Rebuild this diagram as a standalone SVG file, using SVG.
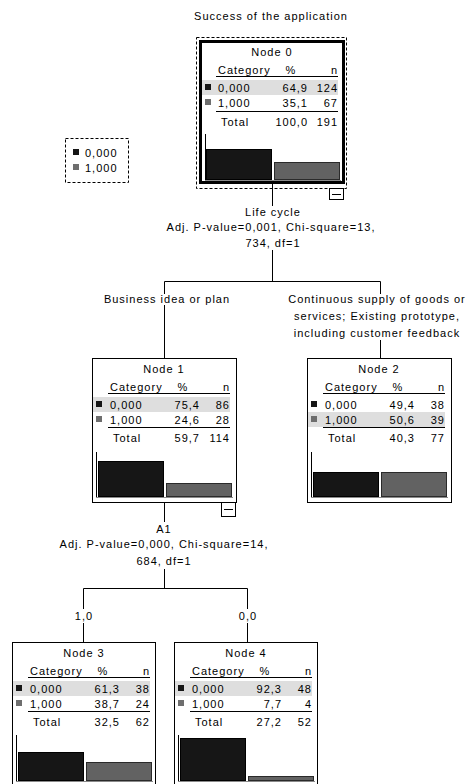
<svg xmlns="http://www.w3.org/2000/svg" width="466" height="784" viewBox="0 0 466 784">
<style>
.t{font-family:"Liberation Sans",Arial,sans-serif;font-size:11px;letter-spacing:1px;fill:#000}
.m{text-anchor:middle}
.e{text-anchor:end}
.ln{stroke:#000;stroke-width:1;fill:none}
.bx{fill:#fff;stroke:#000;stroke-width:1}
.hl{fill:#dedede}
.bk{fill:#161616;stroke:#000;stroke-width:1}
.gy{fill:#626262;stroke:#2a2a2a;stroke-width:1}
.sqb{fill:#161616}
.sqg{fill:#6e6e6e}
.base{stroke:#8a8a8a;stroke-width:1}
.dash{fill:none;stroke:#000;stroke-width:1;stroke-dasharray:3 2}
</style>
<rect width="466" height="784" fill="#fff"/>
<text class="t m" x="271" y="20">Success of the application</text>

<g id="legend">
<rect class="dash" x="65.5" y="138.5" width="63" height="44"/>
<rect class="sqb" x="73" y="149" width="6" height="6"/>
<text class="t" x="85" y="157">0,000</text>
<rect class="sqg" x="73" y="164" width="6" height="6"/>
<text class="t" x="85" y="172">1,000</text>
</g>

<g id="connectors">
<path class="ln" d="M272.5 184V206M272.5 250V281.5M164.5 281.5H380.5M164.5 281.5V294M164.5 305V358M380.5 281.5V294M380.5 340V358"/>
<path class="ln" d="M164.5 503V522M164.5 569V588.5M83.5 588.5H247.5M83.5 588.5V609M83.5 623V642M247.5 588.5V609M247.5 623V642"/>
<text class="t m" x="273" y="216">Life cycle</text>
<text class="t m" x="271" y="231">Adj. P-value=0,001, Chi-square=13,</text>
<text class="t m" x="273" y="247">734, df=1</text>
<text class="t m" x="167" y="303">Business idea or plan</text>
<text class="t m" x="377" y="303">Continuous supply of goods or</text>
<text class="t m" x="377" y="320">services; Existing prototype,</text>
<text class="t m" x="377" y="337">including customer feedback</text>
<text class="t m" x="164" y="533">A1</text>
<text class="t m" x="164" y="548">Adj. P-value=0,000, Chi-square=14,</text>
<text class="t m" x="164" y="565">684, df=1</text>
<text class="t m" x="84" y="620">1,0</text>
<text class="t m" x="248" y="620">0,0</text>
</g>

<g id="node0">
<rect class="dash" x="196.5" y="37.5" width="150" height="151"/>
<rect x="200.5" y="41.5" width="143" height="141" fill="#fff" stroke="#000" stroke-width="3"/>
<g transform="translate(200,41)">
<text class="t m" x="72" y="15">Node 0</text>
<text class="t" x="18" y="33">Category</text>
<text class="t m" x="91" y="33">%</text>
<text class="t e" x="138" y="33">n</text>
<line class="ln" x1="16" y1="35.5" x2="138" y2="35.5"/>
<rect class="hl" x="2" y="39" width="136" height="15"/>
<rect class="sqb" x="5" y="43" width="6" height="6"/>
<text class="t" x="18" y="51">0,000</text>
<text class="t e" x="108" y="51">64,9</text>
<text class="t e" x="138" y="51">124</text>
<rect class="sqg" x="5" y="58" width="6" height="6"/>
<text class="t" x="18" y="66">1,000</text>
<text class="t e" x="108" y="66">35,1</text>
<text class="t e" x="138" y="66">67</text>
<line class="ln" x1="16" y1="70.5" x2="138" y2="70.5"/>
<text class="t" x="21" y="85">Total</text>
<text class="t e" x="108" y="85">100,0</text>
<text class="t e" x="138" y="85">191</text>
<line class="ln" x1="5.5" y1="93" x2="5.5" y2="139"/>
<line class="base" x1="5" y1="139.5" x2="141" y2="139.5"/>
<rect class="bk" x="6.5" y="108.5" width="65" height="30"/>
<rect class="gy" x="74.5" y="121.5" width="65" height="17"/>
</g>
<rect class="bx" x="329.5" y="188.5" width="14" height="11"/>
<line class="ln" x1="332" y1="194.5" x2="341" y2="194.5"/>
</g>

<g id="node1" transform="translate(92,358)">
<rect class="bx" x="0.5" y="0.5" width="144" height="144"/>
<text class="t m" x="72" y="15">Node 1</text>
<text class="t" x="18" y="33">Category</text>
<text class="t m" x="91" y="33">%</text>
<text class="t e" x="138" y="33">n</text>
<line class="ln" x1="16" y1="35.5" x2="138" y2="35.5"/>
<rect class="hl" x="1" y="39" width="137" height="15"/>
<rect class="sqb" x="4" y="43" width="6" height="6"/>
<text class="t" x="18" y="51">0,000</text>
<text class="t e" x="108" y="51">75,4</text>
<text class="t e" x="138" y="51">86</text>
<rect class="sqg" x="4" y="58" width="6" height="6"/>
<text class="t" x="18" y="66">1,000</text>
<text class="t e" x="108" y="66">24,6</text>
<text class="t e" x="138" y="66">28</text>
<line class="ln" x1="16" y1="69.5" x2="138" y2="69.5"/>
<text class="t" x="21" y="84">Total</text>
<text class="t e" x="108" y="84">59,7</text>
<text class="t e" x="138" y="84">114</text>
<line class="ln" x1="4.5" y1="94" x2="4.5" y2="140"/>
<line class="base" x1="4" y1="139.5" x2="141" y2="139.5"/>
<rect class="bk" x="6.5" y="103.5" width="65" height="35"/>
<rect class="gy" x="74.5" y="125.5" width="65" height="13"/>
</g>
<g id="node1-toggle">
<rect class="bx" x="221.5" y="502.5" width="14" height="14"/>
<line class="ln" x1="224" y1="509.5" x2="233" y2="509.5"/>
</g>

<g id="node2" transform="translate(307,358)">
<rect class="bx" x="0.5" y="0.5" width="144" height="144"/>
<text class="t m" x="72" y="15">Node 2</text>
<text class="t" x="18" y="33">Category</text>
<text class="t m" x="91" y="33">%</text>
<text class="t e" x="138" y="33">n</text>
<line class="ln" x1="16" y1="35.5" x2="138" y2="35.5"/>
<rect class="hl" x="1" y="54" width="137" height="15"/>
<rect class="sqb" x="4" y="43" width="6" height="6"/>
<text class="t" x="18" y="51">0,000</text>
<text class="t e" x="108" y="51">49,4</text>
<text class="t e" x="138" y="51">38</text>
<rect class="sqg" x="4" y="58" width="6" height="6"/>
<text class="t" x="18" y="66">1,000</text>
<text class="t e" x="108" y="66">50,6</text>
<text class="t e" x="138" y="66">39</text>
<line class="ln" x1="16" y1="69.5" x2="138" y2="69.5"/>
<text class="t" x="21" y="84">Total</text>
<text class="t e" x="108" y="84">40,3</text>
<text class="t e" x="138" y="84">77</text>
<line class="ln" x1="4.5" y1="94" x2="4.5" y2="140"/>
<line class="base" x1="4" y1="139.5" x2="141" y2="139.5"/>
<rect class="bk" x="6.5" y="114.5" width="65" height="24"/>
<rect class="gy" x="74.5" y="114.5" width="65" height="24"/>
</g>

<g id="node3" transform="translate(12,642)">
<rect class="bx" x="0.5" y="0.5" width="143" height="144"/>
<text class="t m" x="72" y="15">Node 3</text>
<text class="t" x="18" y="33">Category</text>
<text class="t m" x="91" y="33">%</text>
<text class="t e" x="138" y="33">n</text>
<line class="ln" x1="16" y1="35.5" x2="138" y2="35.5"/>
<rect class="hl" x="1" y="39" width="137" height="15"/>
<rect class="sqb" x="4" y="43" width="6" height="6"/>
<text class="t" x="18" y="51">0,000</text>
<text class="t e" x="108" y="51">61,3</text>
<text class="t e" x="138" y="51">38</text>
<rect class="sqg" x="4" y="58" width="6" height="6"/>
<text class="t" x="18" y="66">1,000</text>
<text class="t e" x="108" y="66">38,7</text>
<text class="t e" x="138" y="66">24</text>
<line class="ln" x1="16" y1="69.5" x2="138" y2="69.5"/>
<text class="t" x="21" y="84">Total</text>
<text class="t e" x="108" y="84">32,5</text>
<text class="t e" x="138" y="84">62</text>
<line class="ln" x1="4.5" y1="93" x2="4.5" y2="140"/>
<line class="base" x1="4" y1="139.5" x2="141" y2="139.5"/>
<rect class="bk" x="6.5" y="110.5" width="65" height="28"/>
<rect class="gy" x="74.5" y="120.5" width="65" height="18"/>
</g>

<g id="node4" transform="translate(174,642)">
<rect class="bx" x="0.5" y="0.5" width="143" height="144"/>
<text class="t m" x="72" y="15">Node 4</text>
<text class="t" x="18" y="33">Category</text>
<text class="t m" x="91" y="33">%</text>
<text class="t e" x="138" y="33">n</text>
<line class="ln" x1="16" y1="35.5" x2="138" y2="35.5"/>
<rect class="hl" x="1" y="39" width="137" height="15"/>
<rect class="sqb" x="4" y="43" width="6" height="6"/>
<text class="t" x="18" y="51">0,000</text>
<text class="t e" x="108" y="51">92,3</text>
<text class="t e" x="138" y="51">48</text>
<rect class="sqg" x="4" y="58" width="6" height="6"/>
<text class="t" x="18" y="66">1,000</text>
<text class="t e" x="108" y="66">7,7</text>
<text class="t e" x="138" y="66">4</text>
<line class="ln" x1="16" y1="69.5" x2="138" y2="69.5"/>
<text class="t" x="21" y="84">Total</text>
<text class="t e" x="108" y="84">27,2</text>
<text class="t e" x="138" y="84">52</text>
<line class="ln" x1="4.5" y1="93" x2="4.5" y2="140"/>
<line class="base" x1="4" y1="139.5" x2="141" y2="139.5"/>
<rect class="bk" x="6.5" y="96.5" width="65" height="42"/>
<rect class="gy" x="74.5" y="134.5" width="65" height="4"/>
</g>
</svg>
